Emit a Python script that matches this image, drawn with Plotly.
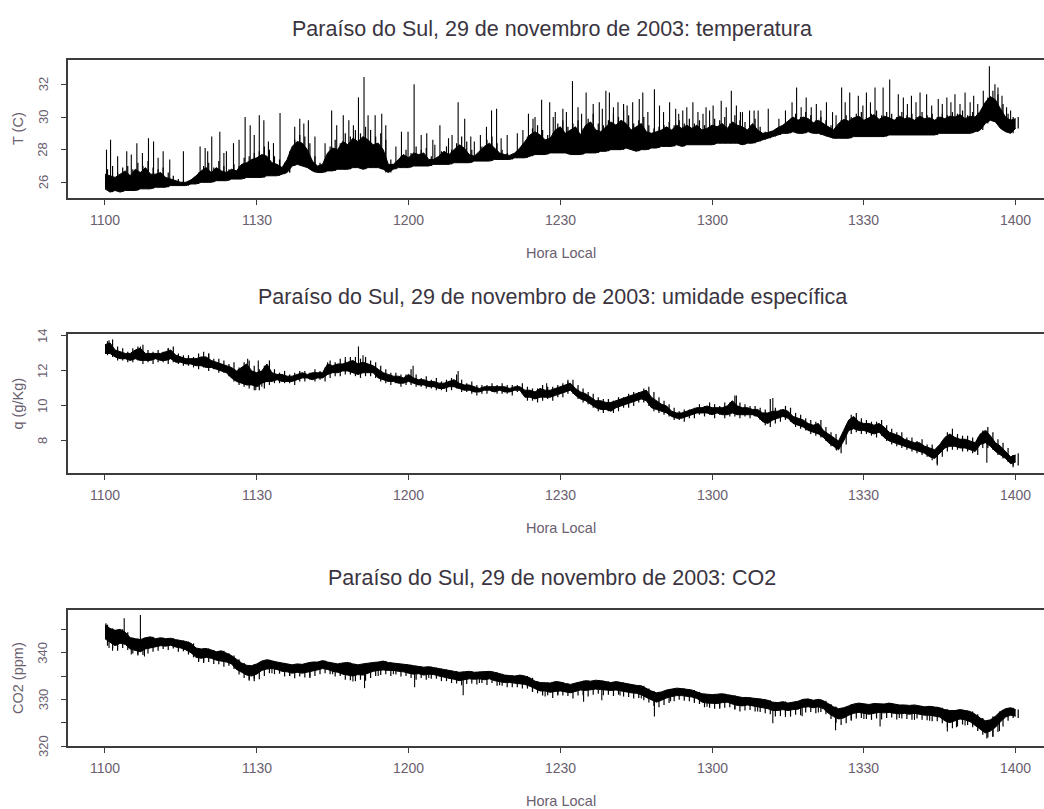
import plotly.graph_objects as go

# Time axis: minutes after 11:00 local time, one sample per minute (0..180)
TICK_MIN = [0, 30, 60, 90, 120, 150, 180]
TICK_TXT = ["1100", "1130", "1200", "1230", "1300", "1330", "1400"]

# Temperature (C) per minute: minimum, top of the dense core, maximum
T_LO = [25.6, 25.4, 25.5, 25.4, 25.5, 25.5, 25.5, 25.6, 25.6, 25.6,
        25.7, 25.7, 25.7, 25.8, 25.8, 25.8, 25.8, 25.9, 25.9, 26.0,
        26.0, 26.0, 26.1, 26.1, 26.1, 26.2, 26.2, 26.2, 26.3, 26.3,
        26.3, 26.3, 26.4, 26.4, 26.4, 26.5, 26.6, 27.0, 27.1, 27.0,
        26.9, 26.7, 26.6, 26.6, 26.7, 26.7, 26.8, 26.8, 26.8, 26.9,
        26.9, 26.8, 26.9, 26.9, 26.9, 26.8, 26.6, 26.8, 26.9, 26.9,
        26.9, 27.0, 27.0, 27.0, 27.0, 27.1, 27.1, 27.1, 27.1, 27.2,
        27.2, 27.2, 27.2, 27.3, 27.3, 27.3, 27.3, 27.4, 27.4, 27.4,
        27.4, 27.5, 27.5, 27.5, 27.6, 27.7, 27.7, 27.7, 27.8, 27.8,
        27.8, 27.8, 27.7, 27.7, 27.7, 27.8, 27.8, 27.8, 27.9, 27.9,
        28.0, 28.0, 28.0, 28.1, 28.0, 27.9, 28.0, 28.0, 28.1, 28.1,
        28.2, 28.2, 28.2, 28.3, 28.2, 28.3, 28.3, 28.3, 28.3, 28.3,
        28.3, 28.4, 28.4, 28.4, 28.4, 28.4, 28.3, 28.4, 28.4, 28.5,
        28.6, 28.7, 28.8, 28.9, 29.0, 29.0, 29.1, 29.0, 29.0, 29.1,
        29.0, 29.0, 28.9, 28.8, 28.7, 28.7, 28.7, 28.7, 28.8, 28.8,
        28.8, 28.8, 28.8, 28.8, 28.8, 28.9, 28.9, 28.9, 28.9, 28.9,
        28.9, 28.9, 28.9, 28.9, 28.9, 29.0, 29.0, 29.0, 29.0, 29.0,
        29.0, 29.0, 29.1, 29.2, 29.6, 29.8, 29.7, 29.3, 29.1, 29.0, 29.3]
T_CORE = [26.5, 26.4, 26.3, 26.5, 26.7, 26.4, 26.8, 26.6, 26.9, 26.5,
          26.5, 26.6, 26.3, 26.2, 26.1, 26.0, 26.0, 26.15, 26.4, 26.7,
          26.9, 26.6, 26.9, 26.7, 26.6, 26.8, 26.7, 27.1, 27.2, 27.4,
          27.5, 27.7, 27.6, 27.2, 27.1, 26.9, 27.4, 28.2, 28.5, 28.4,
          28.0, 27.3, 27.0, 27.1, 27.8, 28.1, 28.0, 28.5, 28.3, 28.7,
          28.5, 28.8, 28.6, 28.3, 28.4, 28.0, 27.1, 27.1, 27.4, 27.7,
          27.5, 27.8, 27.7, 27.8, 27.4, 27.4, 27.6, 27.9, 27.7, 28.0,
          28.3, 28.1, 27.7, 27.6, 27.9, 28.2, 28.4, 28.1, 27.8, 27.7,
          27.65, 27.8, 28.1, 28.5, 28.9, 29.1, 28.9, 28.6, 28.7, 29.2,
          29.4, 29.0, 29.2, 29.4, 28.9, 29.5, 29.7, 29.2, 29.1, 29.4,
          29.7, 29.5, 29.8, 29.6, 29.2, 29.4, 29.6, 29.1, 29.0, 29.1,
          29.2, 29.4, 29.2, 29.5, 29.3, 29.5, 29.3, 29.5, 29.2, 29.3,
          29.5, 29.4, 29.6, 29.3, 29.7, 29.5, 29.4, 29.2, 29.6, 29.2,
          29.0, 29.05, 29.15, 29.35, 29.5, 29.75, 30.0, 29.8, 30.0, 29.9,
          29.65, 29.8, 29.6, 29.35, 29.2, 29.6, 29.85, 29.75, 29.95, 30.05,
          29.8, 29.95, 30.15, 29.85, 30.05, 29.95, 29.8, 30.05, 29.9, 29.95,
          29.8, 30.05, 29.9, 29.95, 29.8, 30.0, 29.9, 30.05, 30.0, 30.15,
          29.9, 30.05, 30.0, 30.35, 30.9, 31.25, 31.05, 30.5, 30.0, 29.8, 29.9]
T_HI = [26.8, 27.0, 26.6, 26.9, 27.0, 26.8, 27.2, 27.0, 27.3, 26.9,
        26.8, 26.9, 26.6, 26.4, 26.2, 26.1, 26.0, 26.2, 26.6, 27.0,
        27.2, 26.9, 27.3, 27.0, 26.8, 27.1, 27.0, 27.5, 27.6, 27.8,
        27.9, 28.2, 28.0, 27.6, 27.4, 27.2, 27.8, 28.6, 28.9, 28.8,
        28.4, 27.6, 27.2, 27.4, 28.2, 28.6, 28.4, 29.0, 28.8, 29.2,
        29.0, 29.4, 29.2, 28.8, 29.0, 28.6, 27.4, 27.2, 27.6, 28.0,
        27.8, 28.2, 28.0, 28.1, 27.6, 27.5, 27.9, 28.2, 28.0, 28.4,
        28.8, 28.5, 28.0, 27.7, 28.2, 28.6, 28.8, 28.4, 28.0, 27.8,
        27.7, 27.9, 28.3, 28.8, 29.3, 29.5, 29.2, 28.9, 29.0, 29.6,
        29.8, 29.4, 29.6, 29.8, 29.3, 29.9, 30.2, 29.6, 29.5, 29.8,
        30.2, 30.0, 30.4, 30.1, 29.6, 29.8, 30.0, 29.5, 29.3, 29.4,
        29.5, 29.7, 29.5, 29.8, 29.6, 29.9, 29.6, 29.8, 29.5, 29.6,
        29.9, 29.8, 30.0, 29.6, 30.1, 29.8, 29.7, 29.5, 29.9, 29.4,
        29.1, 29.1, 29.2, 29.4, 29.6, 29.9, 30.2, 30.0, 30.3, 30.1,
        29.8, 30.0, 29.8, 29.5, 29.3, 29.8, 30.1, 30.0, 30.2, 30.3,
        30.0, 30.2, 30.4, 30.1, 30.3, 30.2, 30.0, 30.3, 30.1, 30.2,
        30.0, 30.3, 30.1, 30.2, 30.0, 30.2, 30.1, 30.3, 30.2, 30.4,
        30.1, 30.3, 30.2, 30.6, 31.2, 31.6, 31.4, 30.8, 30.2, 30.0, 30.0]
# Short temperature bursts: time (min) and peak value (C)
T_SPK_MIN = [0.3, 1.1, 4.3, 6.3, 8.6, 9.6, 11.5, 15.5, 18.8, 19.8, 21.1, 22.7, 24.0, 25.4,
             27.7, 28.7, 30.5, 31.4, 32.3, 34.6, 36.5, 38.5, 40.2, 44.8, 47.1, 49.1, 50.1,
             51.2, 52.0, 53.4, 54.7, 58.6, 59.9, 61.1, 63.6, 66.2, 67.9, 69.8, 71.1, 75.4,
             76.4, 77.4, 83.7, 86.3, 87.9, 90.5, 92.4, 95.1, 97.7, 99.0, 99.7, 101.4, 104.3,
             105.6, 106.3, 108.6, 109.6, 111.6, 114.2, 116.2, 117.2, 118.8, 120.2, 121.8,
             123.8, 124.8, 127.4, 129.1, 131.1, 136.7, 138.6, 140.6, 142.6, 145.6, 147.2,
             148.9, 150.5, 152.2, 153.8, 155.1, 156.8, 157.8, 159.4, 161.1, 162.4, 164.7,
             166.4, 168.0, 170.0, 171.7, 173.6, 174.8, 175.9, 177.3, 178.2,
             2.5, 5.2, 7.4, 10.5, 12.8, 20.3, 23.5, 26.5, 29.5, 33.3, 37.5, 39.3, 41.5,
             43.5, 45.8, 48.2, 55.5, 57.5, 62.5, 64.8, 65.2, 68.6, 72.3, 73.0, 74.2, 78.3,
             79.5, 81.5, 82.6, 84.6, 85.0, 88.6, 89.0, 91.2, 93.5, 94.2, 96.5, 98.3, 100.5,
             102.5, 103.2, 107.3, 110.4, 112.8, 113.4, 115.0, 118.2, 119.5, 122.8, 125.6,
             126.0, 128.3, 133.2, 134.5, 135.8, 137.6, 139.6, 141.5, 143.8, 144.5, 146.3,
             149.8, 151.3, 158.6, 160.3, 163.4, 165.5, 167.2, 169.0, 171.0, 172.5, 176.5,
             179.0]
T_SPK_VAL = [28.0, 28.6, 27.9, 28.4, 28.7, 28.5, 27.9, 27.9, 28.2, 28.1, 28.8, 29.1, 27.9, 28.4,
             30.0, 29.5, 30.1, 29.8, 28.5, 30.25, 27.9, 29.9, 29.8, 30.4, 30.1, 29.5, 31.2,
             32.45, 30.1, 30.1, 30.2, 29.1, 29.1, 32.0, 29.0, 29.5, 28.7, 30.9, 29.9, 29.4,
             30.4, 30.5, 30.2, 31.05, 30.9, 30.5, 32.2, 31.5, 30.9, 31.6, 31.5, 30.9, 30.9,
             31.1, 31.5, 31.7, 30.7, 30.9, 30.4, 30.9, 30.3, 30.6, 30.7, 31.0,
             31.6, 30.7, 30.4, 30.4, 30.5, 31.8, 31.2, 30.8, 30.9, 31.8, 31.5,
             31.3, 31.5, 31.8, 31.8, 32.3, 31.4, 31.2, 31.3, 31.5, 31.4, 31.1,
             31.2, 31.4, 31.5, 31.3, 31.6, 33.1, 32.0, 31.3, 30.6,
             27.6, 27.7, 27.8, 27.5, 27.4, 27.9, 27.8, 28.6, 28.9, 28.4, 29.4, 29.6, 28.8,
             28.4, 29.5, 29.8, 29.5, 28.2, 28.9, 28.6, 28.3, 28.9, 28.8, 28.5, 28.9, 28.7,
             28.9, 29.0, 29.2, 29.9, 30.0, 30.0, 30.3, 30.3, 30.6, 30.2, 30.8, 30.5, 30.6,
             30.8, 30.7, 30.3, 30.3, 30.5, 30.2, 30.6, 30.2, 30.4, 30.6, 30.3,
             30.3, 30.4, 29.9, 30.4, 30.9, 30.6, 30.6, 30.4, 30.3, 30.1, 30.9,
             30.7, 30.9, 30.8, 30.9, 30.7, 30.8, 30.9, 30.8, 30.9, 30.8, 31.8,
             30.4]

# Specific humidity (g/kg) per minute: minimum, core low, core high, maximum
Q_MIN = [12.9, 12.8, 12.6, 12.6, 12.5, 12.5, 12.6, 12.4, 12.5, 12.4,
         12.5, 12.5, 12.4, 12.5, 12.4, 12.3, 12.3, 12.2, 12.1, 12.2,
         12.0, 12.1, 11.9, 11.9, 11.7, 11.4, 11.2, 11.1, 11.0, 10.9,
         10.9, 11.0, 11.2, 11.3, 11.3, 11.3, 11.3, 11.2, 11.4, 11.4,
         11.5, 11.4, 11.5, 11.4, 11.6, 11.7, 11.7, 11.8, 11.8, 11.7,
         11.6, 11.7, 11.7, 11.6, 11.4, 11.3, 11.2, 11.3, 11.1, 11.2,
         11.2, 11.1, 11.1, 11.0, 11.0, 10.9, 10.9, 10.8, 10.9, 11.0,
         10.8, 10.8, 10.7, 10.6, 10.7, 10.7, 10.8, 10.7, 10.7, 10.7,
         10.6, 10.8, 10.7, 10.3, 10.3, 10.2, 10.3, 10.4, 10.3, 10.5,
         10.5, 10.7, 10.7, 10.4, 10.2, 10.1, 9.9, 9.7, 9.6, 9.7,
         9.6, 9.7, 9.9, 9.9, 10.0, 10.2, 10.2, 10.0, 9.7, 9.6,
         9.5, 9.4, 9.2, 9.2, 9.1, 9.3, 9.3, 9.5, 9.4, 9.5,
         9.3, 9.5, 9.3, 9.4, 9.4, 9.3, 9.4, 9.3, 9.4, 9.2,
         8.9, 8.8, 9.0, 9.1, 9.2, 9.1, 8.8, 8.7, 8.6, 8.4,
         8.3, 8.2, 8.0, 7.7, 7.5, 7.3, 7.8, 8.4, 8.5, 8.4,
         8.4, 8.3, 8.2, 8.3, 8.0, 7.8, 7.7, 7.6, 7.5, 7.4,
         7.3, 7.2, 7.1, 6.9, 6.7, 7.1, 7.4, 7.5, 7.5, 7.4,
         7.4, 7.3, 7.2, 7.6, 7.6, 7.5, 7.2, 7.0, 6.8, 6.5, 6.6]
Q_LO = [13.0, 13.0, 12.8, 12.7, 12.7, 12.6, 12.7, 12.6, 12.6, 12.6,
        12.7, 12.6, 12.6, 12.7, 12.5, 12.5, 12.4, 12.4, 12.3, 12.3,
        12.2, 12.2, 12.1, 12.0, 11.9, 11.6, 11.4, 11.3, 11.2, 11.2,
        11.1, 11.3, 11.4, 11.4, 11.5, 11.4, 11.4, 11.4, 11.5, 11.6,
        11.6, 11.5, 11.6, 11.6, 11.8, 11.9, 11.9, 12.0, 12.0, 11.9,
        11.8, 11.9, 11.9, 11.9, 11.6, 11.5, 11.4, 11.4, 11.3, 11.3,
        11.4, 11.3, 11.2, 11.2, 11.1, 11.1, 11.0, 11.0, 11.1, 11.1,
        11.0, 10.9, 10.9, 10.8, 10.8, 10.9, 10.9, 10.8, 10.9, 10.8,
        10.8, 10.9, 10.9, 10.5, 10.5, 10.4, 10.5, 10.5, 10.5, 10.6,
        10.7, 10.8, 10.9, 10.6, 10.4, 10.3, 10.1, 9.9, 9.8, 9.8,
        9.7, 9.9, 10.0, 10.1, 10.2, 10.3, 10.4, 10.3, 9.9, 9.8,
        9.7, 9.6, 9.4, 9.3, 9.3, 9.4, 9.5, 9.6, 9.6, 9.6,
        9.5, 9.6, 9.5, 9.5, 9.6, 9.5, 9.5, 9.5, 9.5, 9.4,
        9.1, 9.0, 9.2, 9.3, 9.4, 9.3, 9.0, 8.9, 8.8, 8.6,
        8.5, 8.4, 8.2, 7.9, 7.7, 7.5, 8.0, 8.6, 8.7, 8.6,
        8.6, 8.5, 8.4, 8.5, 8.2, 8.0, 7.9, 7.8, 7.7, 7.6,
        7.5, 7.4, 7.3, 7.1, 7.0, 7.3, 7.6, 7.7, 7.7, 7.6,
        7.6, 7.5, 7.4, 7.8, 7.9, 7.7, 7.4, 7.2, 7.0, 6.7, 6.8]
Q_HI = [13.5, 13.6, 13.2, 13.1, 13.0, 13.0, 13.2, 13.3, 13.0, 13.0,
        13.0, 13.0, 13.1, 13.2, 12.9, 12.8, 12.7, 12.7, 12.7, 12.8,
        12.8, 12.6, 12.5, 12.4, 12.3, 12.2, 12.0, 12.2, 12.4, 12.0,
        11.9, 12.0, 12.4, 11.9, 11.8, 11.8, 11.7, 11.7, 11.8, 11.9,
        11.8, 11.9, 11.9, 11.9, 12.4, 12.3, 12.4, 12.4, 12.5, 12.6,
        12.4, 12.5, 12.4, 12.3, 12.1, 11.9, 11.8, 11.7, 11.7, 11.6,
        11.8, 11.6, 11.5, 11.5, 11.4, 11.4, 11.3, 11.3, 11.4, 11.5,
        11.3, 11.2, 11.2, 11.1, 11.0, 11.1, 11.1, 11.1, 11.1, 11.1,
        11.0, 11.1, 11.1, 10.9, 10.9, 10.8, 11.0, 10.9, 10.9, 11.0,
        11.1, 11.2, 11.3, 11.0, 10.8, 10.7, 10.5, 10.3, 10.3, 10.2,
        10.2, 10.3, 10.4, 10.5, 10.6, 10.7, 10.8, 10.9, 10.5, 10.3,
        10.1, 10.0, 9.7, 9.6, 9.6, 9.7, 9.8, 9.9, 9.9, 10.0,
        9.9, 9.9, 9.9, 10.0, 10.3, 10.0, 9.9, 9.9, 9.8, 9.8,
        9.6, 9.6, 9.7, 9.7, 9.8, 9.7, 9.4, 9.3, 9.2, 9.0,
        8.9, 9.0, 8.6, 8.4, 8.2, 8.0, 8.6, 9.2, 9.4, 9.1,
        9.0, 9.0, 8.9, 9.0, 8.8, 8.5, 8.4, 8.3, 8.1, 8.0,
        7.9, 7.9, 7.7, 7.6, 7.5, 7.8, 8.2, 8.4, 8.2, 8.1,
        8.1, 8.0, 7.9, 8.4, 8.6, 8.3, 7.9, 7.7, 7.4, 7.1, 7.2]
Q_MAX = [13.7, 13.8, 13.4, 13.3, 13.1, 13.3, 13.4, 13.5, 13.2, 13.1,
         13.2, 13.1, 13.3, 13.4, 13.0, 12.9, 12.9, 12.8, 13.0, 13.1,
         13.0, 12.7, 12.7, 12.6, 12.4, 12.5, 12.2, 12.5, 12.6, 12.3,
         12.1, 12.3, 12.6, 12.1, 11.9, 12.0, 11.8, 11.9, 12.0, 12.0,
         11.9, 12.1, 12.0, 12.2, 12.6, 12.5, 12.7, 12.6, 12.8, 12.8,
         12.7, 12.8, 12.6, 12.5, 12.3, 12.1, 11.9, 11.9, 11.8, 11.8,
         12.1, 11.8, 11.6, 11.7, 11.5, 11.6, 11.4, 11.5, 11.6, 11.8,
         11.5, 11.3, 11.4, 11.2, 11.2, 11.2, 11.3, 11.2, 11.3, 11.2,
         11.2, 11.2, 11.3, 11.1, 11.0, 11.0, 11.2, 11.1, 11.1, 11.2,
         11.3, 11.4, 11.5, 11.2, 11.0, 10.8, 10.7, 10.5, 10.4, 10.4,
         10.3, 10.5, 10.5, 10.7, 10.8, 10.8, 11.0, 11.1, 10.8, 10.5,
         10.3, 10.1, 9.9, 9.7, 9.8, 9.8, 9.9, 10.1, 10.0, 10.2,
         10.1, 10.0, 10.2, 10.2, 10.6, 10.2, 10.1, 10.0, 10.0, 9.9,
         9.8, 10.4, 9.9, 9.8, 10.0, 9.9, 9.6, 9.5, 9.3, 9.2,
         9.1, 9.2, 8.8, 8.5, 8.4, 8.2, 8.9, 9.5, 9.6, 9.3,
         9.2, 9.1, 9.1, 9.2, 8.9, 8.7, 8.5, 8.5, 8.2, 8.2,
         8.0, 8.1, 7.8, 7.8, 7.6, 8.0, 8.5, 8.7, 8.4, 8.3,
         8.3, 8.2, 8.2, 8.6, 8.8, 8.5, 8.1, 7.9, 7.6, 7.2, 7.3]
Q_SPK_MIN = [0.8, 7.0, 12.5, 20.5, 28.2, 29.8, 30.3, 31.0, 44.0, 47.5, 50.1, 51.0,
             60.9, 69.8, 87.3, 91.5, 124.8, 132.0, 144.6, 164.5, 174.3, 179.5]
Q_SPK_VAL = [13.75, 13.4, 13.3, 13.0, 12.7, 10.9, 12.6, 11.1, 12.5, 12.8, 13.4, 12.9,
             12.3, 12.0, 11.3, 11.5, 10.6, 10.45, 7.45, 6.6, 6.75, 6.6]

# CO2 concentration (ppm) per minute: minimum, core low, core high
C_MIN = [341.5, 341.0, 340.4, 341.0, 340.6, 339.8, 339.6, 339.5, 339.8, 340.2,
         340.4, 340.8, 340.6, 340.9, 340.2, 340.3, 339.6, 339.0, 338.0, 337.8,
         338.0, 337.6, 337.5, 337.0, 337.2, 336.5, 335.3, 334.6, 334.2, 333.9,
         334.3, 335.0, 335.6, 335.4, 335.5, 334.9, 335.0, 334.5, 334.9, 334.7,
         334.6, 335.0, 335.4, 335.6, 335.4, 334.9, 335.0, 334.2, 334.1, 333.9,
         334.2, 334.0, 334.6, 335.0, 335.2, 335.4, 335.0, 335.3, 334.9, 335.0,
         334.6, 334.2, 334.6, 334.2, 334.4, 334.4, 333.9, 333.9, 333.5, 333.4,
         333.0, 333.3, 333.4, 333.2, 333.5, 333.1, 333.5, 332.9, 332.9, 332.6,
         332.6, 332.6, 332.3, 332.3, 331.6, 331.3, 330.8, 330.9, 330.3, 330.8,
         330.8, 330.7, 330.2, 330.8, 330.9, 330.6, 331.0, 331.2, 330.9, 331.0,
         330.7, 331.0, 330.6, 330.5, 330.2, 330.3, 329.8, 329.3, 328.6, 328.3,
         328.8, 329.2, 329.6, 329.9, 329.7, 329.6, 329.5, 329.0, 328.3, 328.2,
         328.0, 328.0, 328.2, 328.3, 327.9, 327.4, 327.6, 327.7, 327.4, 327.3,
         327.0, 326.8, 326.3, 326.4, 326.6, 326.3, 326.7, 326.6, 327.2, 327.3,
         327.0, 327.3, 326.8, 325.8, 325.0, 324.5, 324.9, 325.4, 325.9, 326.0,
         325.8, 325.6, 325.9, 325.7, 326.0, 326.1, 325.7, 325.9, 325.8, 325.6,
         325.9, 325.6, 325.5, 325.3, 325.3, 324.9, 324.0, 323.8, 324.2, 324.6,
         324.5, 324.0, 323.2, 322.4, 321.8, 322.0, 323.0, 324.2, 325.4, 326.0, 326.0]
C_LO = [343.0, 342.2, 341.5, 342.0, 341.8, 340.8, 340.5, 340.2, 340.8, 341.0,
        341.2, 341.5, 341.4, 341.6, 341.2, 341.0, 340.6, 340.0, 339.0, 338.8,
        339.0, 338.8, 338.4, 338.2, 338.0, 337.6, 336.4, 335.8, 335.2, 335.0,
        335.4, 336.2, 336.5, 336.6, 336.4, 336.0, 335.9, 335.6, 335.8, 335.6,
        335.8, 336.0, 336.3, 336.6, 336.4, 336.0, 335.8, 335.4, 335.2, 335.0,
        335.3, 335.2, 335.6, 336.0, 336.2, 336.3, 336.2, 336.2, 336.0, 335.9,
        335.6, 335.4, 335.5, 335.2, 335.4, 335.3, 335.0, 334.8, 334.6, 334.3,
        334.0, 334.2, 334.4, 334.3, 334.4, 334.2, 334.4, 334.0, 333.8, 333.6,
        333.6, 333.5, 333.4, 333.2, 332.8, 332.3, 331.8, 331.8, 331.5, 331.7,
        331.8, 331.6, 331.4, 331.7, 332.0, 331.9, 332.0, 332.2, 332.1, 332.0,
        331.9, 332.0, 331.8, 331.5, 331.4, 331.3, 331.0, 330.4, 329.9, 329.4,
        329.8, 330.3, 330.6, 330.8, 330.8, 330.7, 330.5, 330.2, 329.4, 329.2,
        329.2, 329.1, 329.3, 329.4, 329.0, 328.7, 328.6, 328.8, 328.6, 328.4,
        328.2, 328.0, 327.6, 327.6, 327.8, 327.6, 327.8, 327.9, 328.3, 328.4,
        328.2, 328.4, 328.0, 327.0, 326.3, 325.8, 326.0, 326.6, 327.0, 327.2,
        327.0, 326.8, 327.0, 327.2, 327.1, 327.2, 327.0, 326.9, 327.0, 326.8,
        327.0, 326.8, 326.6, 326.6, 326.4, 326.2, 325.4, 325.0, 325.4, 325.8,
        325.6, 325.2, 324.4, 323.6, 322.8, 323.2, 324.0, 325.2, 326.2, 326.6, 326.4]
C_HI = [346.0, 345.2, 344.8, 345.0, 344.4, 343.2, 343.0, 342.8, 343.2, 343.4,
        343.0, 343.2, 343.0, 343.1, 342.8, 342.6, 342.4, 342.0, 341.0, 340.8,
        340.9, 340.6, 340.2, 340.4, 339.9, 339.4, 338.6, 337.8, 337.3, 337.2,
        337.6, 338.2, 338.5, 338.2, 338.0, 337.8, 337.6, 337.4, 337.6, 337.5,
        337.8, 338.0, 338.0, 338.3, 338.0, 337.8, 337.6, 337.8, 337.9, 337.6,
        337.4, 337.6, 337.8, 337.9, 338.0, 338.2, 337.9, 337.8, 337.6, 337.6,
        337.4, 337.2, 337.0, 336.9, 337.0, 336.8, 336.6, 336.4, 336.2, 336.0,
        335.8, 335.9, 336.0, 335.8, 335.9, 336.0, 336.0, 335.8, 335.5, 335.2,
        335.1, 335.0, 335.2, 335.0, 334.6, 333.9, 333.6, 333.6, 333.5, 333.8,
        333.7, 333.4, 333.2, 333.5, 333.8, 334.0, 333.9, 334.1, 334.0, 333.8,
        333.6, 333.8, 333.6, 333.3, 333.1, 333.0, 332.9, 332.3, 331.8, 331.4,
        331.6, 332.0, 332.2, 332.4, 332.3, 332.2, 332.0, 331.6, 331.2, 331.1,
        331.0, 331.1, 331.2, 331.0, 330.8, 330.5, 330.4, 330.4, 330.3, 330.2,
        330.0, 329.8, 329.4, 329.3, 329.5, 329.2, 329.4, 329.6, 330.0, 330.1,
        329.8, 330.0, 329.7, 329.0, 328.4, 328.0, 328.2, 328.6, 329.0, 329.2,
        329.0, 328.9, 329.1, 329.0, 329.0, 329.2, 329.0, 328.8, 328.8, 328.7,
        328.8, 328.6, 328.4, 328.5, 328.4, 328.2, 327.8, 327.6, 327.6, 327.8,
        327.6, 327.4, 326.8, 326.0, 325.4, 325.6, 326.4, 327.4, 328.0, 328.2, 327.8]
C_SPK_MIN = [0.2, 3.8, 7.0, 0.8, 1.5, 5.2, 6.5, 7.8, 18.5, 19.5, 28.5, 29.5, 33.0, 36.5,
             40.5, 45.0, 49.0, 51.3, 54.0, 57.0, 61.2, 64.0, 68.0, 70.8, 74.0, 78.0, 84.5,
             87.0, 89.5, 94.6, 98.2, 101.8, 106.0, 108.6, 111.8, 116.5, 119.0, 121.5, 124.5,
             129.0, 132.0, 134.5, 137.8, 141.0, 144.4, 147.5, 150.0, 153.2, 157.0, 160.0,
             163.0, 166.5, 168.3, 170.0, 174.3, 175.5, 176.8]
C_SPK_VAL = [346.3, 347.4, 348.1, 341.0, 340.4, 339.6, 339.4, 339.2, 338.2, 338.0, 334.0,
             334.4, 335.6, 335.0, 334.8, 335.4, 333.8, 332.4, 335.0, 335.4, 332.6, 334.6,
             334.4, 330.9, 333.5, 333.0, 331.6, 330.6, 331.0, 329.5, 329.8, 330.8, 330.2,
             326.3, 329.6, 329.2, 328.4, 328.2, 327.8, 327.4, 324.9, 326.2, 326.4, 327.2,
             323.4, 325.6, 325.8, 324.2, 326.0, 325.6, 325.4, 323.1, 324.0, 324.4, 321.6,
             322.0, 323.2]

PANELS = [
    dict(band=(T_LO, T_CORE), needle=(T_LO, T_HI), smin=T_SPK_MIN, sval=T_SPK_VAL,
         title="Paraíso do Sul, 29 de novembro de 2003: temperatura", ylab="T (C)",
         yticks=[26, 28, 30, 32], ytext=["26", "28", "30", "32"],
         yrange=[25.04, 33.49], top=60, bottom=198, ttl=29),
    dict(band=(Q_LO, Q_HI), needle=(Q_MIN, Q_MAX), smin=Q_SPK_MIN, sval=Q_SPK_VAL,
         title="Paraíso do Sul, 29 de novembro de 2003: umidade específica", ylab="q (g/Kg)",
         yticks=[8, 10, 12, 14], ytext=["8", "10", "12", "14"],
         yrange=[6.17, 14.11], top=334, bottom=473, ttl=297),
    dict(band=(C_LO, C_HI), needle=(C_MIN, C_HI), smin=C_SPK_MIN, sval=C_SPK_VAL,
         title="Paraíso do Sul, 29 de novembro de 2003: CO2", ylab="CO2 (ppm)",
         yticks=[320, 325, 330, 335, 340, 345], ytext=["320", "", "330", "", "340", ""],
         yrange=[320.0, 349.15], top=610, bottom=746, ttl=578),
]

W, H = 1044, 809
LEFT = 68
FRAME = "#3c3c3c"
TICKC = "#6a6070"
TXTC = "#3a3440"
FONT = "Liberation Sans"

fig = go.Figure()
layout = dict(width=W, height=H, margin=dict(l=LEFT, r=0, t=0, b=0),
              paper_bgcolor="white", plot_bgcolor="white", showlegend=False,
              annotations=[])

px_x = lambda px: (px - LEFT) / (W - LEFT)
px_y = lambda py: 1 - py / H

for k, p in enumerate(PANELS, start=1):
    xa = "x" if k == 1 else f"x{k}"
    ya = "y" if k == 1 else f"y{k}"
    minutes = list(range(len(p["band"][0])))
    # dense core of the record as a filled band
    fig.add_trace(go.Scatter(x=minutes, y=p["band"][0], mode="lines",
                             line=dict(color="black", width=1), xaxis=xa, yaxis=ya,
                             hoverinfo="skip"))
    fig.add_trace(go.Scatter(x=minutes, y=p["band"][1], mode="lines", fill="tonexty",
                             fillcolor="black", line=dict(color="black", width=1),
                             xaxis=xa, yaxis=ya, hoverinfo="skip"))
    # full range reached within each minute, as thin vertical strokes
    nx, ny = [], []
    for i, (lo, hi) in enumerate(zip(*p["needle"])):
        nx += [i + 0.5, i + 0.5, None]
        ny += [lo, hi, None]
    fig.add_trace(go.Scatter(x=nx, y=ny, mode="lines", line=dict(color="black", width=1.2),
                             xaxis=xa, yaxis=ya, hoverinfo="skip"))
    # isolated excursions
    sx, sy = [], []
    lo_arr, hi_arr = p["band"]
    for m, v in zip(p["smin"], p["sval"]):
        i = min(int(round(m)), len(lo_arr) - 1)
        base = lo_arr[i] if v >= hi_arr[i] else hi_arr[i]
        sx += [m, m, None]
        sy += [base, v, None]
    fig.add_trace(go.Scatter(x=sx, y=sy, mode="lines", line=dict(color="black", width=1.1),
                             xaxis=xa, yaxis=ya, hoverinfo="skip"))

    dom = [px_y(p["bottom"]), px_y(p["top"])]
    xkey = "xaxis" if k == 1 else f"xaxis{k}"
    ykey = "yaxis" if k == 1 else f"yaxis{k}"
    layout[xkey] = dict(domain=[0, 1], anchor=ya, range=[-7.31, 185.6],
                        tickvals=TICK_MIN, ticks="outside", showticklabels=False,
                        ticklen=5, tickwidth=1, tickcolor=FRAME, showline=True,
                        linecolor=FRAME, linewidth=1.5, mirror=True, showgrid=False,
                        zeroline=False)
    layout[ykey] = dict(domain=dom, anchor=xa, range=p["yrange"], tickvals=p["yticks"],
                        ticks="outside", showticklabels=False, ticklen=5, tickwidth=1,
                        tickcolor=FRAME, showline=True, linecolor=FRAME, linewidth=1.5,
                        showgrid=False, zeroline=False)
    # tick labels placed on the axis scales
    for m, t in zip(TICK_MIN, TICK_TXT):
        layout["annotations"].append(dict(
            text=t, x=m, xref=xa, y=px_y(p["bottom"] + 22), yref="paper",
            showarrow=False, xanchor="center", yanchor="middle",
            font=dict(family=FONT, size=14, color=TICKC)))
    for v, t in zip(p["yticks"], p["ytext"]):
        if t:
            layout["annotations"].append(dict(
                text=t, x=px_x(43), xref="paper", y=v, yref=ya, showarrow=False,
                xanchor="center", yanchor="middle", textangle=-90,
                font=dict(family=FONT, size=13, color=TICKC)))
    layout["annotations"] += [
        dict(text=p["title"], x=px_x(552), y=px_y(p["ttl"]), xref="paper", yref="paper",
             showarrow=False, xanchor="center", yanchor="middle",
             font=dict(family=FONT, size=21.5, color=TXTC)),
        dict(text="Hora Local", x=px_x(561), y=px_y(p["bottom"] + 55), xref="paper",
             yref="paper", showarrow=False, xanchor="center", yanchor="middle",
             font=dict(family=FONT, size=14.5, color=TICKC)),
        dict(text=p["ylab"], x=px_x(18), y=px_y((p["top"] + p["bottom"]) / 2), xref="paper",
             yref="paper", showarrow=False, xanchor="center", yanchor="middle",
             textangle=-90, font=dict(family=FONT, size=14.5, color=TICKC)),
    ]

fig.update_layout(**layout)
fig.write_html("out.html")
